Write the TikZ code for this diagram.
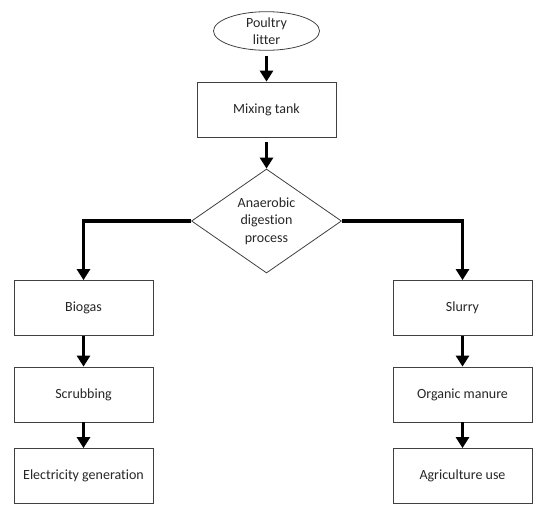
\documentclass[tikz,border=0pt]{standalone}
\usepackage{fontspec}
\setmainfont[Ligatures=NoCommon]{Carlito}
\usetikzlibrary{shapes.geometric,arrows.meta}

\begin{document}
\begin{tikzpicture}[x=1pt,y=-1pt]
  \useasboundingbox (0,0) rectangle (541,504);
  \tikzstyle{TextStyle}=[font=\fontsize{14}{17.5}\selectfont,text=black!85,align=center]
  \tikzstyle{BoxStyle}=[TextStyle,draw=black!75,line width=0.8pt,inner sep=0pt,
    minimum width=139pt,minimum height=55pt]
  \tikzstyle{ArrowStyle}=[line width=3.6pt,-{Triangle[width=13pt,length=11pt]}]
  \node[TextStyle,ellipse,draw=black!75,line width=0.8pt,inner sep=0pt,
    minimum width=106pt,minimum height=38pt] (litter) at (266.5,31) {Poultry\\litter};
  \node[BoxStyle] (mix) at (266.5,109.5) {Mixing tank};
  \node[TextStyle,diamond,draw=black!75,line width=0.8pt,inner sep=0pt,aspect=1.45,
    minimum width=150pt,minimum height=104pt] (adp) at (266.5,221) {Anaerobic\\digestion\\process};
  \node[BoxStyle] (biogas) at (83.5,308) {Biogas};
  \node[BoxStyle] (scrub) at (83.5,394.5) {Scrubbing};
  \node[BoxStyle] (elec) at (83.5,476) {Electricity generation};
  \node[BoxStyle] (slurry) at (462.5,308) {Slurry};
  \node[BoxStyle] (manure) at (462.5,394.5) {Organic manure};
  \node[BoxStyle] (agri) at (462.5,476) {Agriculture use};
  \draw[ArrowStyle,shorten <=5pt] (litter) -- (mix);
  \draw[ArrowStyle,shorten <=5pt] (mix) -- (adp);
  \draw[ArrowStyle] (adp.west) -| (biogas.north);
  \draw[ArrowStyle] (adp.east) -| (slurry.north);
  \draw[ArrowStyle] (biogas) -- (scrub);
  \draw[ArrowStyle] (scrub) -- (elec);
  \draw[ArrowStyle] (slurry) -- (manure);
  \draw[ArrowStyle] (manure) -- (agri);
\end{tikzpicture}
\end{document}
